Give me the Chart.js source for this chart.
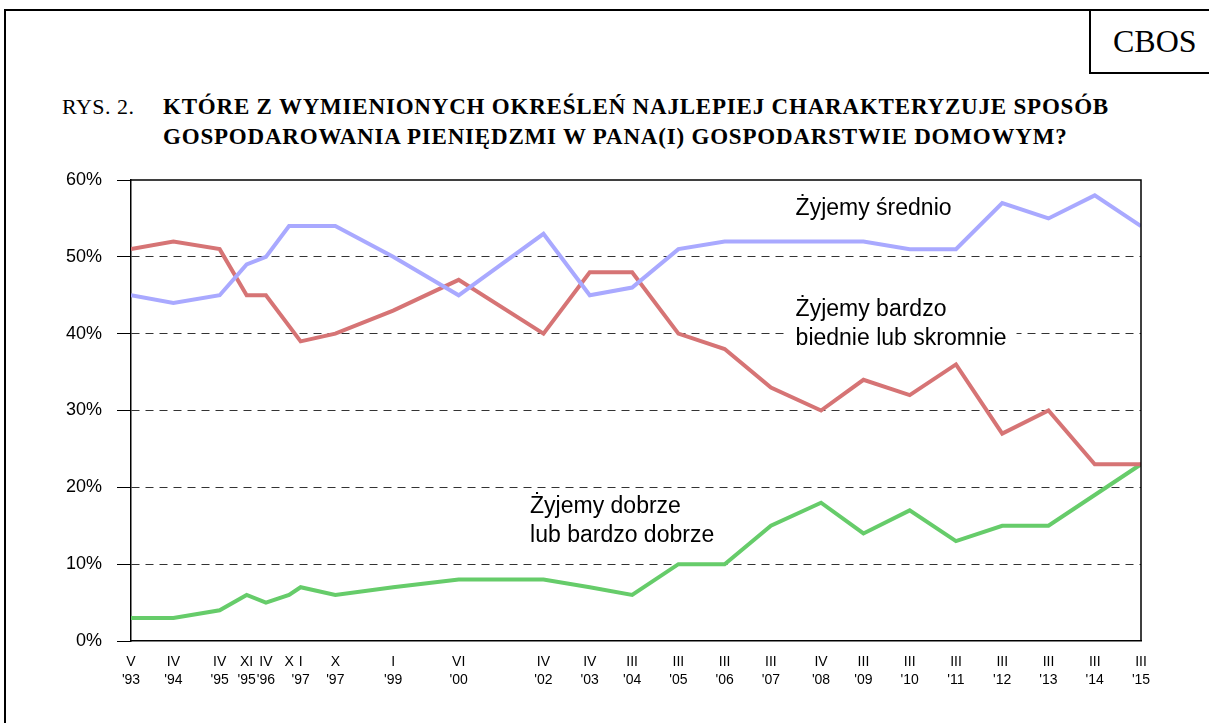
<!DOCTYPE html>
<html>
<head>
<meta charset="utf-8">
<script src="https://cdn.jsdelivr.net/npm/chart.js@4"></script>
<style>
    body { margin: 0; background: #fff; }
    #wrap { position: relative; width: 1209px; height: 723px; overflow: hidden; }
    #frame { position: absolute; left: 4px; top: 9px; width: 1220px; height: 730px; border-left: 2px solid #000; border-top: 2px solid #000; }
    #cbos { position: absolute; left: 1089px; top: 9px; width: 130px; height: 65px; border-left: 2px solid #000; border-bottom: 2px solid #000;
        font-family: "Liberation Serif", serif; font-size: 32px; line-height: 64px; padding-left: 22px; box-sizing: border-box; }
    .title { position: absolute; font-family: "Liberation Serif", serif; font-size: 22px; line-height: 30px; }
    #rys { left: 62px; top: 92px; letter-spacing: 0.5px; }
    #q { left: 163px; top: 92px; font-size: 23px; font-weight: bold; letter-spacing: 0.8px; }
    canvas { position: absolute; left: 0; top: 0; }
</style>
</head>
<body>
<div id="wrap">
    <div id="frame"></div>
    <div id="cbos">CBOS</div>
    <div class="title" id="rys">RYS. 2.</div>
    <div class="title" id="q">KTÓRE Z WYMIENIONYCH OKREŚLEŃ NAJLEPIEJ CHARAKTERYZUJE SPOSÓB<br>GOSPODAROWANIA PIENIĘDZMI W PANA(I) GOSPODARSTWIE DOMOWYM?</div>
    <canvas id="chart" width="1209" height="723"></canvas>
</div>
<script>
// survey dates
const surveyYear = [1993, 1994, 1995, 1995, 1996, 1996, 1997, 1997, 1999, 2000, 2002, 2003, 2004, 2005, 2006, 2007, 2008, 2009, 2010, 2011, 2012, 2013, 2014, 2015];
const surveyMonth = [5, 4, 4, 11, 4, 10, 1, 10, 1, 6, 4, 4, 3, 3, 3, 3, 4, 3, 3, 3, 3, 3, 3, 3];
const monthLabels = ["V", "IV", "IV", "XI", "IV", "X", "I", "X", "I", "VI", "IV", "IV", "III", "III", "III", "III", "IV", "III", "III", "III", "III", "III", "III", "III"];
const yearLabels = ["'93", "'94", "'95", "'95", "'96", "", "'97", "'97", "'99", "'00", "'02", "'03", "'04", "'05", "'06", "'07", "'08", "'09", "'10", "'11", "'12", "'13", "'14", "'15"];

// series (%)
const srednio = [45, 44, 45, 49, 50, 54, 54, 54, 50, 45, 53, 45, 46, 51, 52, 52, 52, 52, 51, 51, 57, 55, 58, 54];
const biednie = [51, 52, 51, 45, 45, null, 39, 40, 43, 47, 40, 48, 48, 40, 38, 33, 30, 34, 32, 36, 27, 30, 23, 23];
const dobrze = [3, 3, 4, 6, 5, 6, 7, 6, 7, 8, 8, 7, 6, 10, 10, 15, 18, 14, 17, 13, 15, 15, 19, 23];

const yTicks = [0, 10, 20, 30, 40, 50, 60];

const surveyTime = surveyYear.map((y, i) => y + (surveyMonth[i] - 1) / 12);
const toPoints = (arr) => arr.map((v, i) => ({ x: surveyTime[i], y: v }));

// series labels: anchor in data units (time, %), text lines, white background
const seriesNotes = [
    { x: 2007.7, y: 57.8, lines: ["Żyjemy średnio"], bg: false },
    { x: 2007.7, y: 44.6, lines: ["Żyjemy bardzo", "biednie lub skromnie"], bg: true },
    { x: 2001.96, y: 19.0, lines: ["Żyjemy dobrze", "lub bardzo dobrze"], bg: false },
];

const notesPlugin = {
    id: "notes",
    beforeDatasetsDraw(chart) {
        const { ctx, scales } = chart;
        ctx.save();
        ctx.font = "23px 'Liberation Sans', Arial, sans-serif";
        ctx.textBaseline = "top";
        seriesNotes.forEach((n) => {
            const px = scales.x.getPixelForValue(n.x);
            const py = scales.y.getPixelForValue(n.y);
            if (n.bg) {
                const w = Math.max(...n.lines.map((l) => ctx.measureText(l).width));
                ctx.fillStyle = "#fff";
                ctx.fillRect(px - 10, py - 4, w + 20, n.lines.length * 29 + 4);
            }
            ctx.fillStyle = "#000";
            n.lines.forEach((l, i) => ctx.fillText(l, px, py + i * 29));
        });
        ctx.restore();
    },
    afterDraw(chart) {
        const { ctx, chartArea } = chart;
        ctx.save();
        ctx.strokeStyle = "#000";
        ctx.lineWidth = 1.5;
        ctx.beginPath();
        ctx.moveTo(chartArea.left, chartArea.top);
        ctx.lineTo(chartArea.right, chartArea.top);
        ctx.lineTo(chartArea.right, chartArea.bottom);
        ctx.stroke();
        ctx.restore();
    },
};

const lineStyle = { borderWidth: 4, pointRadius: 0, tension: 0, fill: false, spanGaps: true };

new Chart(document.getElementById("chart"), {
    type: "line",
    data: {
        datasets: [
            { label: "Żyjemy średnio", data: toPoints(srednio), borderColor: "#a9a9ff", ...lineStyle },
            { label: "Żyjemy bardzo biednie lub skromnie", data: toPoints(biednie), borderColor: "#d67475", ...lineStyle },
            { label: "Żyjemy dobrze lub bardzo dobrze", data: toPoints(dobrze), borderColor: "#66cc6a", ...lineStyle },
        ],
    },
    options: {
        responsive: false,
        animation: false,
        layout: { padding: { top: 180, right: 68, left: 0, bottom: 0 } },
        plugins: { legend: { display: false }, tooltip: { enabled: false } },
        scales: {
            x: {
                type: "linear",
                min: surveyTime[0],
                max: surveyTime[surveyTime.length - 1],
                afterBuildTicks: (scale) => {
                    scale.ticks = surveyTime.map((v) => ({ value: v }));
                },
                afterFit: (scale) => {
                    scale.height = 82;
                },
                grid: { display: false, drawTicks: false },
                border: { display: true, color: "#000", width: 1.5 },
                ticks: {
                    autoSkip: false,
                    maxRotation: 0,
                    minRotation: 0,
                    padding: 12,
                    color: "#000",
                    font: { family: "'Liberation Sans', Arial, sans-serif", size: 14, lineHeight: 1.3 },
                    callback: (v, i) => [monthLabels[i], yearLabels[i]],
                },
            },
            y: {
                min: 0,
                max: 60,
                afterBuildTicks: (scale) => {
                    scale.ticks = yTicks.map((v) => ({ value: v }));
                },
                afterFit: (scale) => {
                    scale.width = 131;
                },
                grid: {
                    color: (c) => (c.tick && (c.tick.value === 0 || c.tick.value === 60) ? "rgba(0,0,0,0)" : "#333"),
                    lineWidth: 1,
                    tickLength: 14,
                    tickColor: "#000",
                    tickBorderDash: [],
                },
                border: { display: true, color: "#000", width: 1.5, dash: [8, 6] },
                ticks: {
                    padding: 15,
                    color: "#000",
                    font: { family: "'Liberation Sans', Arial, sans-serif", size: 18 },
                    callback: (v) => v + "%",
                },
            },
        },
    },
    plugins: [notesPlugin],
});
</script>
</body>
</html>
